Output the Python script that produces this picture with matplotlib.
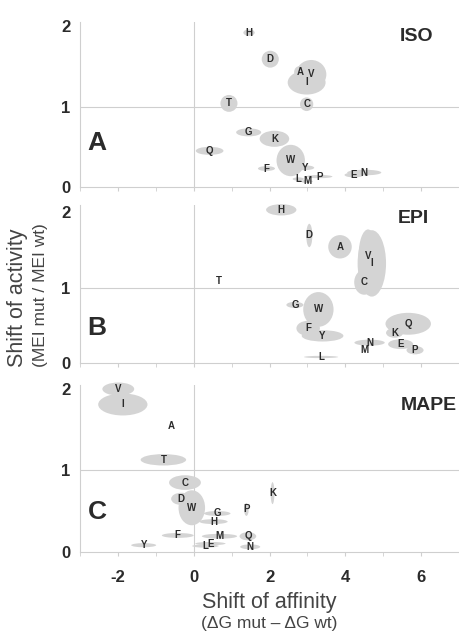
import matplotlib.pyplot as plt
from matplotlib.patches import Ellipse

# panel A - ISO
iso_lab = ['H', 'D', 'A', 'V', 'I', 'T', 'C', 'G', 'K', 'Q', 'W', 'F', 'Y', 'L', 'M', 'P', 'E', 'N']
iso_x = [1.46, 2.02, 2.80, 3.10, 2.98, 0.93, 2.98, 1.45, 2.13, 0.42, 2.56, 1.92, 2.93, 2.76, 2.99, 3.31, 4.23, 4.50]
iso_y = [1.92, 1.59, 1.43, 1.40, 1.30, 1.04, 1.03, 0.68, 0.60, 0.45, 0.33, 0.23, 0.24, 0.10, 0.07, 0.13, 0.15, 0.18]
iso_w = [0.30, 0.45, 0.30, 0.80, 1.00, 0.45, 0.35, 0.66, 0.78, 0.73, 0.75, 0.45, 0.50, 0.30, 0.30, 0.70, 0.50, 0.90]
iso_h = [0.08, 0.21, 0.15, 0.36, 0.30, 0.21, 0.17, 0.10, 0.20, 0.10, 0.39, 0.06, 0.06, 0.04, 0.04, 0.04, 0.06, 0.07]

# panel B - EPI
epi_lab = ['H', 'D', 'A', 'V', 'I', 'C', 'T', 'G', 'W', 'F', 'Y', 'L', 'N', 'M', 'Q', 'K', 'E', 'P']
epi_x = [2.31, 3.05, 3.86, 4.60, 4.70, 4.50, 0.66, 2.67, 3.29, 3.02, 3.40, 3.36, 4.64, 4.50, 5.66, 5.30, 5.46, 5.84]
epi_y = [2.03, 1.69, 1.54, 1.42, 1.32, 1.07, 1.09, 0.77, 0.71, 0.46, 0.36, 0.08, 0.27, 0.17, 0.52, 0.40, 0.25, 0.17]
epi_w = [0.80, 0.16, 0.62, 0.50, 0.75, 0.53, 0.05, 0.45, 0.80, 0.62, 1.10, 0.90, 0.80, 0.10, 1.20, 0.45, 0.66, 0.45]
epi_h = [0.15, 0.31, 0.31, 0.70, 0.88, 0.33, 0.02, 0.08, 0.46, 0.20, 0.15, 0.03, 0.08, 0.05, 0.29, 0.13, 0.13, 0.11]

# panel C - MAPE
mape_lab = ['V', 'I', 'A', 'T', 'C', 'D', 'W', 'K', 'P', 'G', 'H', 'F', 'M', 'Q', 'E', 'L', 'N', 'Y']
mape_x = [-1.99, -1.87, -0.60, -0.80, -0.23, -0.33, -0.05, 2.08, 1.39, 0.62, 0.52, -0.42, 0.68, 1.43, 0.44, 0.31, 1.49, -1.32]
mape_y = [2.00, 1.81, 1.55, 1.13, 0.85, 0.65, 0.54, 0.72, 0.52, 0.47, 0.37, 0.20, 0.19, 0.19, 0.10, 0.07, 0.06, 0.08]
mape_w = [0.84, 1.30, 0.05, 1.20, 0.84, 0.53, 0.70, 0.10, 0.12, 0.70, 0.75, 0.84, 0.93, 0.44, 0.80, 0.70, 0.53, 0.66]
mape_h = [0.16, 0.27, 0.02, 0.14, 0.18, 0.15, 0.43, 0.27, 0.16, 0.06, 0.06, 0.06, 0.06, 0.10, 0.04, 0.04, 0.06, 0.05]

# letter, title, data, axes rect, ylim top, letter y, title (x, y) in axes fraction
panels = [
    ('A', 'ISO', iso_lab, iso_x, iso_y, iso_w, iso_h, [0.1743, 0.705, 0.8257, 0.260], 2.05, 0.27, (0.887, 0.915)),
    ('B', 'EPI', epi_lab, epi_x, epi_y, epi_w, epi_h, [0.1743, 0.4274, 0.8257, 0.250], 2.1, 0.22, (0.879, 0.914)),
    ('C', 'MAPE', mape_lab, mape_x, mape_y, mape_w, mape_h, [0.1743, 0.1298, 0.8257, 0.263], 2.05, 0.24, (0.92, 0.874)),
]

plt.rcParams['font.family'] = ['Liberation Sans', 'DejaVu Sans']
fill = '#d4d4d4'
ink = '#2b2b2b'
axis_col = '#cfcfcf'

fig = plt.figure(figsize=(4.59, 6.34), dpi=100)

for i, (letter, title, lab, xs, ys, ws, hs, pos, ytop, ly, tpos) in enumerate(panels):
    ax = fig.add_axes(pos)
    ax.set_xlim(-3, 7)
    ax.set_ylim(0, ytop)
    ax.axvline(0, color=axis_col, lw=0.8, zorder=0)
    ax.axhline(1, color=axis_col, lw=0.8, zorder=0)
    for x, y, w, h in zip(xs, ys, ws, hs):
        ax.add_patch(Ellipse((x, y), w, h, facecolor=fill, edgecolor='none', zorder=1, clip_on=False))
    for t, x, y in zip(lab, xs, ys):
        ax.text(x, y, t, fontsize=7, fontweight='bold', color=ink, ha='center', va='center', zorder=2)

    ax.text(0.045, ly, letter, transform=ax.transAxes, fontsize=19, fontweight='bold', color=ink,
            ha='center', va='center')
    ax.text(tpos[0], tpos[1], title, transform=ax.transAxes, fontsize=14, fontweight='bold', color=ink,
            ha='center', va='center')

    for s in ['top', 'right']:
        ax.spines[s].set_visible(False)
    for s in ['left', 'bottom']:
        ax.spines[s].set_color(axis_col)
        ax.spines[s].set_linewidth(0.8)

    ax.set_yticks([0, 1, 2])
    ax.set_yticklabels(['0', '1', '2'], fontsize=12, fontweight='bold', color=ink)
    ax.tick_params(axis='y', length=0, pad=7)
    ax.set_xticks([-2, 0, 2, 4, 6])
    ax.set_xticks([-3, -1, 1, 3, 5, 7], minor=True)
    ax.tick_params(axis='x', which='both', length=3, color=axis_col, direction='out')
    if i < 2:
        ax.set_xticklabels([])
    else:
        ax.set_xticklabels(['-2', '0', '2', '4', '6'], fontsize=12, fontweight='bold', color=ink)
        ax.tick_params(axis='x', pad=10)

fig.text(0.039, 0.53, 'Shift of activity', rotation=90, fontsize=15.5, color='#444444', ha='center', va='center')
fig.text(0.088, 0.535, '(MEI mut / MEI wt)', rotation=90, fontsize=12.5, color='#444444', ha='center', va='center')
fig.text(0.587, 0.050, 'Shift of affinity', fontsize=15.5, color='#444444', ha='center', va='center')
fig.text(0.587, 0.016, '(\u0394G mut \u2013 \u0394G wt)', fontsize=12.5, color='#444444', ha='center', va='center')

fig.savefig('out.png', dpi=100)
